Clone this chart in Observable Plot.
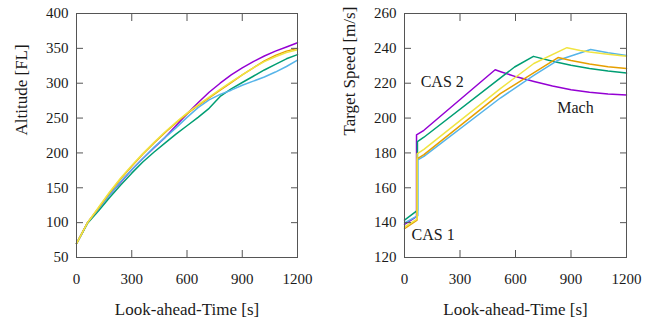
<!DOCTYPE html>
<html><head><meta charset="utf-8">
<script src="https://cdn.jsdelivr.net/npm/d3@7"></script>
<script src="https://cdn.jsdelivr.net/npm/@observablehq/plot@0.6"></script>
<style>
body{margin:0;background:#fff;}
#wrap{display:flex;width:665px;height:322px;overflow:hidden;}
</style></head><body><div id="wrap"></div>
<script>
// ---- series (gnuplot default palette) ----
const seriesNames = ["run 1", "run 2", "run 3", "run 4", "run 5"];
const seriesColors = ["#9400d3", "#009e73", "#56b4e9", "#e69f00", "#f0e442"];

// ---- left panel: altitude [FL] vs look-ahead time [s] ----
const altTimes  = [0, 60, 120, 180, 240, 300, 360, 420, 480, 540, 600, 660, 720, 780, 840, 900, 960, 1020, 1080, 1140, 1200];
const altPurple = [70, 100, 120, 140, 158, 176, 192, 207, 222, 239, 256, 272, 287, 300, 312, 322, 331, 339, 346, 352, 358];
const altGreen  = [70, 99, 117, 136, 154, 171, 187, 201, 214, 227, 239, 251, 264, 281, 292, 301, 310, 319, 327, 335, 341];
const altBlue   = [70, 100, 120, 140, 159, 176, 192, 208, 222, 236, 251, 265, 276, 284, 290, 297, 303, 309, 316, 324, 333];
const altOrange = [70, 100, 121, 143, 163, 181, 198, 214, 229, 243, 256, 268, 279, 290, 301, 312, 322, 332, 340, 346, 350];
const altYellow = [70, 100, 122, 144, 164, 182, 199, 215, 230, 244, 257, 269, 280, 291, 302, 312, 322, 331, 338, 344, 348];

// ---- right panel: target speed [m/s] vs look-ahead time [s] ----
const spdPurpleT = [0, 65, 65, 105, 490, 520, 600, 700, 800, 900, 1000, 1100, 1200];
const spdPurpleV = [139, 143.5, 190.4, 193, 227.7, 226.6, 223.8, 221, 218.4, 216.3, 214.8, 213.8, 213.2];
const spdGreenT  = [0, 70, 70, 105, 595, 697, 800, 900, 1000, 1100, 1200];
const spdGreenV  = [141.5, 147, 186.5, 189, 229.3, 235.4, 232.6, 230.3, 228.5, 227, 225.8];
const spdBlueT   = [0, 72, 72, 105, 518, 699, 826, 1006, 1100, 1200];
const spdBlueV   = [139.8, 144, 176, 178, 211.5, 224.5, 233, 239.3, 237.5, 235.9];
const spdOrangeT = [0, 68, 68, 105, 518, 830, 900, 1000, 1100, 1200];
const spdOrangeV = [136.5, 141.5, 176.6, 179, 214, 234.7, 233, 231, 229.5, 228.4];
const spdYellowT = [0, 68, 68, 105, 518, 699, 878, 950, 1000, 1100, 1200];
const spdYellowV = [137.5, 142, 179.5, 182, 216.9, 231.3, 240.4, 238.8, 237.9, 236.6, 235.5];

// ---- annotations (right panel) ----
const annoText = ["CAS 2", "Mach", "CAS 1"];
const annoT    = [204, 924, 155];
const annoV    = [220.5, 206, 133];

// ---- axes ----
const xTicks = [0, 300, 600, 900, 1200];
const altTicks = [50, 100, 150, 200, 250, 300, 350, 400];
const spdTicks = [120, 140, 160, 180, 200, 220, 240, 260];
const xTitle = "Look-ahead-Time [s]";
const altTitle = "Altitude [FL]";
const spdTitle = "Target Speed [m/s]";

// ---- build tables ----
const altSeries = [altPurple, altGreen, altBlue, altOrange, altYellow];
const altRows = altSeries.flatMap((vals, i) => vals.map((v, j) => ({series: seriesNames[i], t: altTimes[j], v})));
const spdSeries = [[spdPurpleT, spdPurpleV], [spdGreenT, spdGreenV], [spdBlueT, spdBlueV], [spdOrangeT, spdOrangeV], [spdYellowT, spdYellowV]];
const spdRows = spdSeries.flatMap(([ts, vs], i) => ts.map((t, j) => ({series: seriesNames[i], t, v: vs[j]})));
const annoRows = annoText.map((text, i) => ({text, t: annoT[i], v: annoV[i]}));

const FONT = "Liberation Serif";
const INK = "#1a1a1a";
const fmt = d => String(d);

function panel({rows, yDomain, yTicks, yTitle, width, marginLeft, marginRight, extra = []}) {
  const svg = Plot.plot({
    width, height: 322,
    marginLeft, marginRight, marginTop: 13, marginBottom: 65,
    style: {fontFamily: FONT, fontSize: "15px", color: INK, background: "#fff", overflow: "visible"},
    x: {domain: [0, 1200]},
    y: {domain: yDomain},
    color: {type: "ordinal", domain: seriesNames, range: seriesColors},
    marks: [
      Plot.line(rows, {x: "t", y: "v", z: "series", stroke: "series", strokeWidth: 1.5, curve: "linear"}),
      Plot.frame({stroke: "#555", strokeWidth: 1}),
      Plot.axisX(xTicks, {anchor: "bottom", tickSize: -7, tickPadding: 23, tickFormat: fmt, label: null, stroke: "#555", fontSize: 15, fontFamily: FONT, fill: INK}),
      Plot.axisX(xTicks, {anchor: "top", tickSize: -7, tickFormat: () => "", label: null, stroke: "#555"}),
      Plot.axisY(yTicks, {anchor: "left", tickSize: -7, tickPadding: 15, tickFormat: fmt, label: null, stroke: "#555", fontSize: 15, fontFamily: FONT, fill: INK}),
      Plot.axisY(yTicks, {anchor: "right", tickSize: -7, tickFormat: () => "", label: null, stroke: "#555"}),
      Plot.text([xTitle], {frameAnchor: "bottom", dy: 57, text: d => d, fontSize: 17, fontFamily: FONT, fill: INK}),
      Plot.text([yTitle], {frameAnchor: "left", dx: -55, rotate: -90, text: d => d, fontSize: 17, fontFamily: FONT, fill: INK}),
      ...extra
    ]
  });
  return svg;
}

const left = panel({rows: altRows, yDomain: [50, 400], yTicks: altTicks, yTitle: altTitle, width: 332, marginLeft: 76, marginRight: 35});
const right = panel({rows: spdRows, yDomain: [120, 260], yTicks: spdTicks, yTitle: spdTitle, width: 333, marginLeft: 72, marginRight: 39,
  extra: [Plot.text(annoRows, {x: "t", y: "v", text: "text", fontSize: 16, fontFamily: FONT, fill: INK})]});

document.getElementById("wrap").append(left, right);
</script>
</body></html>
